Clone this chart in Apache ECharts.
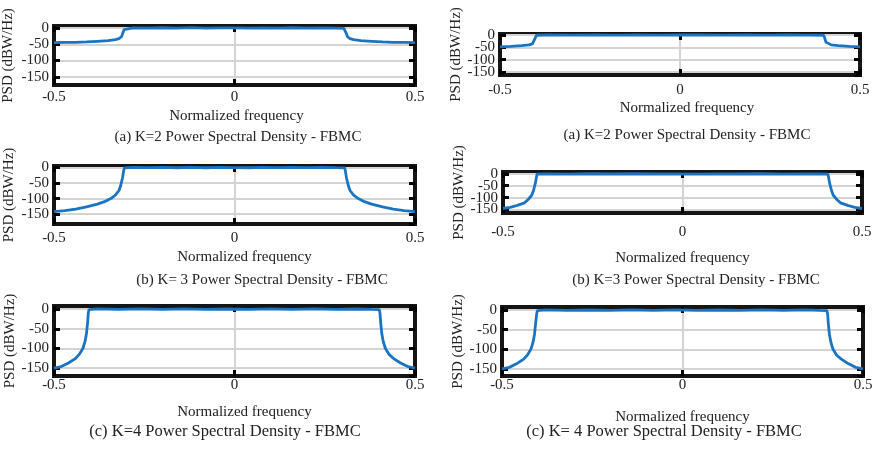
<!DOCTYPE html>
<html>
<head>
<meta charset="utf-8">
<title>FBMC Power Spectral Density</title>
<script src="https://cdn.jsdelivr.net/npm/echarts@6/dist/echarts.min.js"></script>
<style>
  html, body { margin: 0; padding: 0; background: #fff; }
  #chart { width: 880px; height: 450px; }
</style>
</head>
<body>
<div id="chart"></div>
<script>
// ---- Data: normalized frequency vs PSD (dBW/Hz) for each panel ----
const captions = [
  '(a) K=2 Power Spectral Density - FBMC',
  '(a) K=2 Power Spectral Density - FBMC',
  '(b) K= 3 Power Spectral Density - FBMC',
  '(b) K=3 Power Spectral Density - FBMC',
  '(c) K=4 Power Spectral Density - FBMC',
  '(c) K= 4 Power Spectral Density - FBMC'
];
const xTickValues = [-0.5, 0, 0.5];
const yTickValues = [-150, -100, -50, 0];

// K=2, left
const freqA1 = [-0.5,-0.47,-0.44,-0.41,-0.38,-0.35,-0.33,-0.32,-0.313,-0.309,-0.306,-0.303,-0.28,-0.24,-0.2,-0.16,-0.12,-0.08,-0.04,0,0.04,0.08,0.12,0.16,0.2,0.24,0.28,0.303,0.306,0.309,0.313,0.32,0.33,0.35,0.38,0.41,0.44,0.47,0.5];
const psdA1  = [-45,-44,-44,-43,-41,-39,-36,-33,-27,-15,-5,-1,0.5,-0.8,0.6,-0.5,0.8,-0.6,0.4,0,-0.7,0.5,-0.4,0.7,-0.6,0.3,-0.5,-1,-5,-15,-27,-33,-36,-39,-41,-43,-44,-44,-45];
// K=2, right
const freqA2 = [-0.5,-0.47,-0.44,-0.42,-0.41,-0.405,-0.402,-0.399,-0.36,-0.3,-0.24,-0.18,-0.12,-0.06,0,0.06,0.12,0.18,0.24,0.3,0.36,0.399,0.402,0.405,0.41,0.42,0.44,0.47,0.5];
const psdA2  = [-48,-46,-43,-40,-36,-28,-12,-1,0.5,-0.6,0.7,-0.4,0.5,-0.7,0,0.6,-0.5,0.4,-0.6,0.7,-0.4,-1,-12,-28,-36,-40,-43,-46,-48];
// K=3, left
const freqB1 = [-0.5,-0.47,-0.44,-0.41,-0.38,-0.36,-0.34,-0.33,-0.32,-0.315,-0.31,-0.307,-0.305,-0.28,-0.24,-0.2,-0.16,-0.12,-0.08,-0.04,0,0.04,0.08,0.12,0.16,0.2,0.24,0.28,0.305,0.307,0.31,0.315,0.32,0.33,0.34,0.36,0.38,0.41,0.44,0.47,0.5];
const psdB1  = [-142,-139,-134,-127,-118,-110,-98,-89,-74,-57,-32,-10,-1,0.6,-0.5,0.7,-0.6,0.4,-0.7,0.5,0,-0.6,0.5,-0.4,0.7,-0.5,0.6,-0.4,-1,-10,-32,-57,-74,-89,-98,-110,-118,-127,-134,-139,-142];
// K=3, right
const freqB2 = [-0.5,-0.48,-0.46,-0.44,-0.43,-0.42,-0.415,-0.41,-0.407,-0.405,-0.38,-0.32,-0.26,-0.2,-0.14,-0.08,-0.02,0.04,0.1,0.16,0.22,0.28,0.34,0.38,0.405,0.407,0.41,0.415,0.42,0.43,0.44,0.46,0.48,0.5];
const psdB2  = [-146,-141,-133,-122,-108,-90,-70,-40,-15,-1,0.5,-0.6,0.6,-0.4,0.7,-0.5,0.3,-0.6,0.5,-0.4,0.6,-0.7,0.4,-0.5,-1,-15,-40,-70,-90,-108,-122,-133,-141,-146];
// K=4, left
const freqC1 = [-0.5,-0.48,-0.46,-0.44,-0.43,-0.42,-0.414,-0.41,-0.407,-0.405,-0.403,-0.38,-0.32,-0.26,-0.2,-0.14,-0.08,-0.02,0.04,0.1,0.16,0.22,0.28,0.34,0.38,0.401,0.403,0.405,0.408,0.412,0.418,0.428,0.44,0.46,0.48,0.5];
const psdC1  = [-150,-146,-137,-125,-115,-100,-82,-62,-35,-10,-1,0.5,-0.6,0.7,-0.4,0.6,-0.5,0.4,-0.7,0.5,-0.4,0.6,-0.5,0.4,-0.6,-1,-10,-35,-62,-82,-100,-115,-125,-137,-146,-150];
// K=4, right
const freqC2 = [-0.5,-0.48,-0.46,-0.44,-0.43,-0.42,-0.414,-0.41,-0.407,-0.404,-0.402,-0.38,-0.32,-0.26,-0.2,-0.14,-0.08,-0.02,0.04,0.1,0.16,0.22,0.28,0.34,0.38,0.4,0.402,0.404,0.407,0.411,0.417,0.427,0.44,0.46,0.48,0.5];
const psdC2  = [-150,-146,-137,-125,-115,-100,-82,-62,-35,-10,-1,0.6,-0.5,0.4,-0.6,0.7,-0.4,0.5,-0.6,0.4,-0.5,0.7,-0.4,0.5,-0.6,-1,-10,-35,-62,-82,-100,-115,-125,-137,-146,-150];

const seriesData = [
  [freqA1, psdA1], [freqA2, psdA2],
  [freqB1, psdB1], [freqB2, psdB2],
  [freqC1, psdC1], [freqC2, psdC2]
];

// ---- Layout of the six axes boxes ----
const layouts = [
  { left: 54,  top: 26,  width: 361, height: 59, ymin: -175, ymax: 6, xm: 5,  xg: 24, xs: 2,  yg: 38, cx: 238, cy: 137, cf: 15 },
  { left: 500, top: 34,  width: 360, height: 41, ymin: -162, ymax: 4, xm: 8,  xg: 26, xs: 7,  yg: 34, cx: 687, cy: 135, cf: 15 },
  { left: 54,  top: 166, width: 361, height: 58, ymin: -182, ymax: 5, xm: 7,  xg: 26, xs: 10, yg: 37, cx: 262, cy: 280, cf: 15 },
  { left: 503, top: 172, width: 359, height: 41, ymin: -165, ymax: 8, xm: 12, xg: 38, xs: 0,  yg: 36, cx: 696, cy: 280, cf: 15 },
  { left: 54,  top: 306, width: 361, height: 70, ymin: -170, ymax: 8, xm: 2,  xg: 29, xs: 10, yg: 35, cx: 225, cy: 432, cf: 16.5 },
  { left: 502, top: 307, width: 361, height: 69, ymin: -168, ymax: 8, xm: 2,  xg: 34, xs: 0,  yg: 33, cx: 664, cy: 432, cf: 16.5 }
];

const FONT = 'Liberation Serif';
const TEXT = '#222';
const LINE = '#1a74c2';
const GRIDC = '#d4d4d4';

const grid = [], xAxis = [], yAxis = [], series = [], graphic = [];

layouts.forEach((L, i) => {
  grid.push({
    left: L.left, top: L.top, width: L.width, height: L.height,
    show: true, borderWidth: 4, borderColor: '#151515', backgroundColor: '#fff'
  });
  const tick = { show: true, inside: true, length: 6, lineStyle: { color: '#000', width: 3 } };
  const hiddenLine = { show: false, onZero: false };
  // bottom x axis
  xAxis.push({
    type: 'value', gridIndex: i, position: 'bottom',
    min: -0.5, max: 0.5, interval: 0.5,
    axisLine: hiddenLine, axisTick: tick,
    axisLabel: { margin: L.xm, color: TEXT, fontFamily: FONT, fontSize: 15,
      formatter: v => xTickValues.includes(Math.round(v * 10) / 10) ? String(Math.round(v * 10) / 10) : '' },
    splitLine: { show: true, showMinLine: false, showMaxLine: false, lineStyle: { color: GRIDC, width: 2 } },
    name: 'Normalized frequency', nameLocation: 'middle', nameGap: L.xg,
    nameTextStyle: { color: TEXT, fontFamily: FONT, fontSize: 15,
      padding: L.xs > 0 ? [0, 0, 0, 2 * L.xs] : 0 }
  });
  // top x axis (ticks only)
  xAxis.push({
    type: 'value', gridIndex: i, position: 'top',
    min: -0.5, max: 0.5, interval: 0.5,
    axisLine: hiddenLine, axisTick: tick, axisLabel: { show: false }, splitLine: { show: false }
  });
  // left y axis
  yAxis.push({
    type: 'value', gridIndex: i, position: 'left',
    min: L.ymin, max: L.ymax, splitNumber: 4, minInterval: 50, maxInterval: 50,
    axisLine: hiddenLine, axisTick: tick,
    axisLabel: { margin: 5, color: TEXT, fontFamily: FONT, fontSize: 15,
      showMinLabel: false, showMaxLabel: false,
      formatter: v => yTickValues.includes(v) ? String(v) : '' },
    splitLine: { show: true, showMinLine: false, showMaxLine: false, lineStyle: { color: GRIDC, width: 2 } },
    name: 'PSD (dBW/Hz)', nameLocation: 'middle', nameGap: L.yg,
    nameTextStyle: { color: TEXT, fontFamily: FONT, fontSize: 15 }
  });
  // right y axis (ticks only)
  yAxis.push({
    type: 'value', gridIndex: i, position: 'right',
    min: L.ymin, max: L.ymax, splitNumber: 4, minInterval: 50, maxInterval: 50,
    axisLine: hiddenLine, axisTick: tick, axisLabel: { show: false }, splitLine: { show: false }
  });

  const [fx, py] = seriesData[i];
  series.push({
    type: 'line', xAxisIndex: 2 * i, yAxisIndex: 2 * i,
    data: fx.map((f, k) => [f, py[k]]),
    showSymbol: false, clip: true,
    lineStyle: { color: LINE, width: 2.8 }
  });

  graphic.push({
    type: 'text', x: L.cx, y: L.cy, silent: true,
    style: { text: captions[i], fill: TEXT, font: L.cf + 'px "' + FONT + '"',
      textAlign: 'center', textVerticalAlign: 'middle' }
  });
});

const chart = echarts.init(document.getElementById('chart'), null, { renderer: 'canvas' });
chart.setOption({
  animation: false,
  backgroundColor: '#fff',
  grid, xAxis, yAxis, series, graphic
});
</script>
</body>
</html>
